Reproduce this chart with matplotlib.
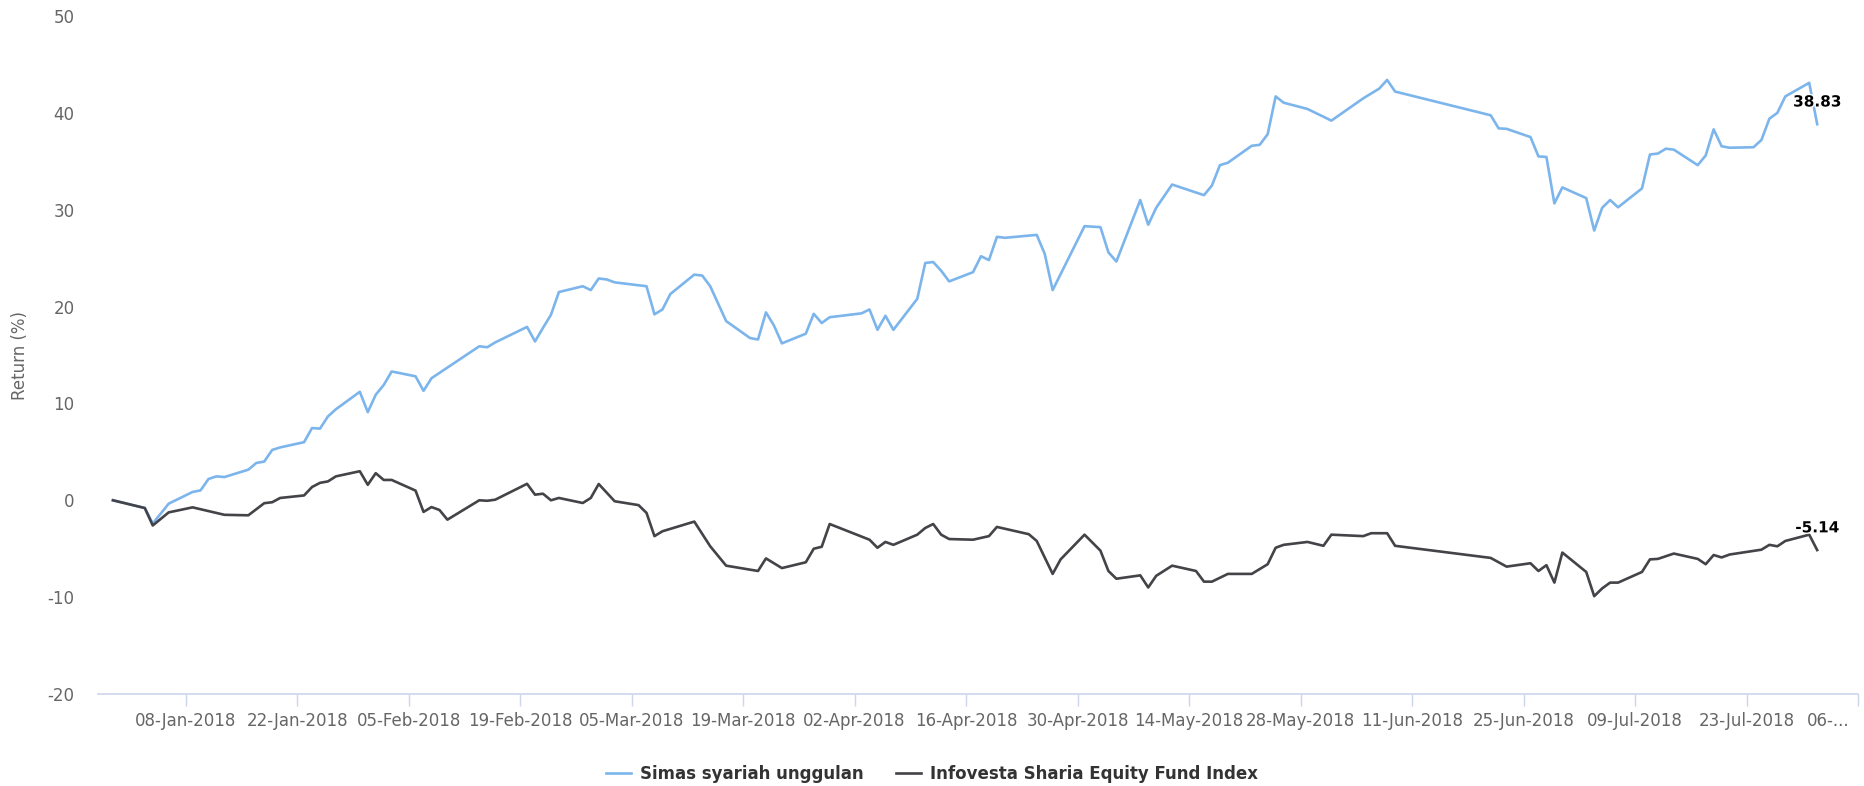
import matplotlib
matplotlib.use("Agg")
import matplotlib.pyplot as plt
import matplotlib.patheffects as pe
import matplotlib.transforms as mtransforms
import matplotlib.ticker as mticker
import pandas as pd

# cumulative return (%) since 29-Dec-2017
simas_dates = [
    "2017-12-29", "2018-01-02", "2018-01-03", "2018-01-05", "2018-01-08", "2018-01-09",
    "2018-01-10", "2018-01-11", "2018-01-12", "2018-01-15", "2018-01-16", "2018-01-17",
    "2018-01-18", "2018-01-19", "2018-01-22", "2018-01-23", "2018-01-24", "2018-01-25",
    "2018-01-26", "2018-01-29", "2018-01-30", "2018-01-31", "2018-02-01", "2018-02-02",
    "2018-02-05", "2018-02-06", "2018-02-07", "2018-02-13", "2018-02-14", "2018-02-15",
    "2018-02-19", "2018-02-20", "2018-02-21", "2018-02-22", "2018-02-23", "2018-02-26",
    "2018-02-27", "2018-02-28", "2018-03-01", "2018-03-02", "2018-03-06", "2018-03-07",
    "2018-03-08", "2018-03-09", "2018-03-12", "2018-03-13", "2018-03-14", "2018-03-16",
    "2018-03-19", "2018-03-20", "2018-03-21", "2018-03-22", "2018-03-23", "2018-03-26",
    "2018-03-27", "2018-03-28", "2018-03-29", "2018-04-02", "2018-04-03", "2018-04-04",
    "2018-04-05", "2018-04-06", "2018-04-09", "2018-04-10", "2018-04-11", "2018-04-12",
    "2018-04-13", "2018-04-16", "2018-04-17", "2018-04-18", "2018-04-19", "2018-04-20",
    "2018-04-24", "2018-04-25", "2018-04-26", "2018-04-30", "2018-05-02", "2018-05-03",
    "2018-05-04", "2018-05-07", "2018-05-08", "2018-05-09", "2018-05-11", "2018-05-15",
    "2018-05-16", "2018-05-17", "2018-05-18", "2018-05-21", "2018-05-22", "2018-05-23",
    "2018-05-24", "2018-05-25", "2018-05-28", "2018-05-31", "2018-06-04", "2018-06-06",
    "2018-06-07", "2018-06-08", "2018-06-20", "2018-06-21", "2018-06-22", "2018-06-25",
    "2018-06-26", "2018-06-27", "2018-06-28", "2018-06-29", "2018-07-02", "2018-07-03",
    "2018-07-04", "2018-07-05", "2018-07-06", "2018-07-09", "2018-07-10", "2018-07-11",
    "2018-07-12", "2018-07-13", "2018-07-16", "2018-07-17", "2018-07-18", "2018-07-19",
    "2018-07-20", "2018-07-23", "2018-07-24", "2018-07-25", "2018-07-26", "2018-07-27",
    "2018-07-30", "2018-07-31",
]
simas = [
    0.0, -0.8, -2.4, -0.35, 0.86, 1.02,
    2.2, 2.47, 2.4, 3.16, 3.85, 4.0,
    5.2, 5.46, 6.0, 7.46, 7.4, 8.66,
    9.4, 11.2, 9.1, 10.9, 11.9, 13.3,
    12.8, 11.3, 12.6, 15.9, 15.8, 16.3,
    17.9, 16.4, 17.8, 19.15, 21.5, 22.1,
    21.7, 22.9, 22.8, 22.5, 22.1, 19.2,
    19.7, 21.3, 23.3, 23.2, 22.1, 18.5,
    16.75, 16.6, 19.4, 18.05, 16.2, 17.2,
    19.25, 18.3, 18.9, 19.3, 19.7, 17.6,
    19.05, 17.6, 20.8, 24.5, 24.6, 23.7,
    22.6, 23.55, 25.2, 24.8, 27.2, 27.1,
    27.4, 25.45, 21.7, 28.3, 28.2, 25.6,
    24.65, 31.0, 28.45, 30.2, 32.6, 31.5,
    32.5, 34.6, 34.85, 36.6, 36.7, 37.8,
    41.7, 41.05, 40.4, 39.2, 41.5, 42.5,
    43.4, 42.2, 39.75, 38.4, 38.35, 37.5,
    35.5, 35.45, 30.65, 32.3, 31.2, 27.85,
    30.2, 31.0, 30.25, 32.2, 35.7, 35.8,
    36.3, 36.2, 34.6, 35.6, 38.3, 36.55,
    36.4, 36.45, 37.2, 39.4, 40.0, 41.7,
    43.1, 38.83,
]

index_dates = [
    "2017-12-29", "2018-01-02", "2018-01-03", "2018-01-05", "2018-01-08", "2018-01-12",
    "2018-01-15", "2018-01-17", "2018-01-18", "2018-01-19", "2018-01-22", "2018-01-23",
    "2018-01-24", "2018-01-25", "2018-01-26", "2018-01-29", "2018-01-30", "2018-01-31",
    "2018-02-01", "2018-02-02", "2018-02-05", "2018-02-06", "2018-02-07", "2018-02-08",
    "2018-02-09", "2018-02-13", "2018-02-14", "2018-02-15", "2018-02-19", "2018-02-20",
    "2018-02-21", "2018-02-22", "2018-02-23", "2018-02-26", "2018-02-27", "2018-02-28",
    "2018-03-02", "2018-03-05", "2018-03-06", "2018-03-07", "2018-03-08", "2018-03-12",
    "2018-03-14", "2018-03-16", "2018-03-20", "2018-03-21", "2018-03-23", "2018-03-26",
    "2018-03-27", "2018-03-28", "2018-03-29", "2018-04-03", "2018-04-04", "2018-04-05",
    "2018-04-06", "2018-04-09", "2018-04-10", "2018-04-11", "2018-04-12", "2018-04-13",
    "2018-04-16", "2018-04-18", "2018-04-19", "2018-04-23", "2018-04-24", "2018-04-26",
    "2018-04-27", "2018-04-30", "2018-05-02", "2018-05-03", "2018-05-04", "2018-05-07",
    "2018-05-08", "2018-05-09", "2018-05-11", "2018-05-14", "2018-05-15", "2018-05-16",
    "2018-05-18", "2018-05-21", "2018-05-23", "2018-05-24", "2018-05-25", "2018-05-28",
    "2018-05-30", "2018-05-31", "2018-06-04", "2018-06-05", "2018-06-07", "2018-06-08",
    "2018-06-20", "2018-06-22", "2018-06-25", "2018-06-26", "2018-06-27", "2018-06-28",
    "2018-06-29", "2018-07-02", "2018-07-03", "2018-07-04", "2018-07-05", "2018-07-06",
    "2018-07-09", "2018-07-10", "2018-07-11", "2018-07-13", "2018-07-16", "2018-07-17",
    "2018-07-18", "2018-07-19", "2018-07-20", "2018-07-24", "2018-07-25", "2018-07-26",
    "2018-07-27", "2018-07-30", "2018-07-31",
]
index_ret = [
    0.0, -0.8, -2.6, -1.25, -0.73, -1.5,
    -1.55, -0.3, -0.2, 0.24, 0.5, 1.37,
    1.8, 1.95, 2.47, 3.0, 1.6, 2.8,
    2.1, 2.1, 1.0, -1.2, -0.7, -1.0,
    -2.0, 0.0, -0.05, 0.06, 1.7, 0.58,
    0.68, 0.0, 0.24, -0.28, 0.24, 1.68,
    -0.1, -0.5, -1.3, -3.7, -3.2, -2.2,
    -4.75, -6.75, -7.3, -6.0, -7.0, -6.4,
    -5.0, -4.8, -2.45, -4.07, -4.9, -4.3,
    -4.6, -3.55, -2.86, -2.45, -3.55, -4.0,
    -4.07, -3.7, -2.75, -3.5, -4.2, -7.6,
    -6.1, -3.55, -5.2, -7.3, -8.1, -7.75,
    -9.0, -7.8, -6.75, -7.3, -8.4, -8.4,
    -7.6, -7.6, -6.6, -4.9, -4.6, -4.3,
    -4.7, -3.55, -3.7, -3.4, -3.4, -4.7,
    -5.95, -6.85, -6.5, -7.3, -6.7, -8.5,
    -5.4, -7.4, -9.9, -9.1, -8.5, -8.5,
    -7.4, -6.1, -6.05, -5.5, -6.05, -6.6,
    -5.65, -5.9, -5.6, -5.1, -4.6, -4.75,
    -4.2, -3.55, -5.14,
]

series_names = ["Simas syariah unggulan", "Infovesta Sharia Equity Fund Index"]
series_colors = ["#7cb5ec", "#434348"]

tick_dates = pd.date_range("2018-01-08", "2018-08-06", freq="14D")
tick_labels = [d.strftime("%d-%b-%Y") for d in tick_dates]
tick_labels[-1] = "06-..."

plt.rcParams["font.family"] = ["DejaVu Sans"]
plt.rcParams["axes.unicode_minus"] = False

W, H = 1864, 786
fig = plt.figure(figsize=(W / 100, H / 100), dpi=100)
ax = fig.add_axes([98 / W, 92 / H, 1760 / W, 678 / H])

# NAV values are stamped at the close, late in the day
stamp = pd.Timedelta(hours=21)
x_simas = pd.to_datetime(simas_dates) + stamp
x_index = pd.to_datetime(index_dates) + stamp

ax.plot(x_simas, simas, color=series_colors[0], lw=1.9, label=series_names[0],
        solid_joinstyle="round")
ax.plot(x_index, index_ret, color=series_colors[1], lw=1.9, label=series_names[1],
        solid_joinstyle="round")

# closing value labels
for xs, ys in ((x_simas, simas), (x_index, index_ret)):
    ax.annotate(f"{ys[-1]:.2f}", xy=(xs[-1], ys[-1]), xytext=(0, 16),
                textcoords="offset points", ha="center", va="center",
                fontsize=11, fontweight="bold", color="black",
                path_effects=[pe.withStroke(linewidth=2, foreground="white")])

ax.set_xlim(pd.Timestamp("2017-12-28"), pd.Timestamp("2018-08-06"))
ax.set_ylim(-20, 50)
ax.set_yticks(range(-20, 51, 10))

ax.set_xticks(tick_dates)
ax.xaxis.set_major_formatter(mticker.FixedFormatter(tick_labels))
ax.tick_params(axis="x", length=8.6, width=1, color="#ccd6eb", pad=4,
               labelsize=12, labelcolor="#666666")
ax.tick_params(axis="y", length=0, pad=17, labelsize=12, labelcolor="#666666")

# last label is clipped at the chart edge, pull it back inside
last = ax.get_xticklabels()[-1]
last.set_transform(last.get_transform() +
                   mtransforms.ScaledTranslation(-30 / 100, 0, fig.dpi_scale_trans))

for side in ("top", "right", "left"):
    ax.spines[side].set_visible(False)
ax.spines["bottom"].set_color("#ccd6eb")
ax.spines["bottom"].set_linewidth(1.2)

ax.set_ylabel("Return (%)", fontsize=12, color="#666666")
ax.yaxis.set_label_coords(-69 / 1760, 0.5)

fig.legend(loc="center", bbox_to_anchor=(0.5, 12 / H), ncol=2, frameon=False,
           handlelength=1.5, handletextpad=0.5, columnspacing=2.0,
           prop={"size": 12, "weight": "bold"}, labelcolor="#333333")

fig.savefig("out.png", dpi=100)
